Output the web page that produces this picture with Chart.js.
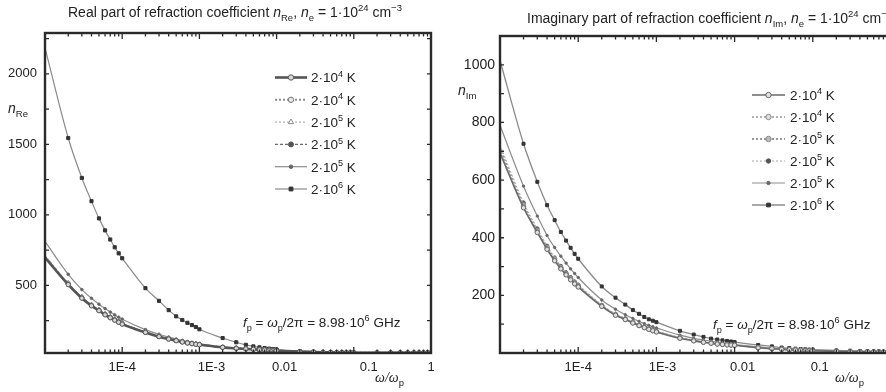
<!DOCTYPE html>
<html>
<head>
<meta charset="utf-8">
<script src="https://cdn.jsdelivr.net/npm/chart.js@4.4.1/dist/chart.umd.min.js"></script>
<style>
  html, body { margin: 0; padding: 0; background: #fff; overflow: hidden; }
  #wrap { position: relative; width: 886px; height: 392px; overflow: hidden; }
  .panel { position: absolute; top: 0; }
</style>
</head>
<body>
<div id="wrap">
  <canvas id="reChart" class="panel" width="443" height="392" style="left:0"></canvas>
  <canvas id="imChart" class="panel" width="460" height="392" style="left:443px"></canvas>
</div>
<script>
// omega/omega_p sample points, shared by every curve
const omega = [
  1e-5, 2e-5, 3e-5, 4e-5, 5e-5, 6e-5, 7e-5, 8e-5, 9e-5,
  1e-4, 2e-4, 3e-4, 4e-4, 5e-4, 6e-4, 7e-4, 8e-4, 9e-4,
  1e-3, 2e-3, 3e-3, 4e-3, 5e-3, 6e-3, 7e-3, 8e-3, 9e-3,
  0.01, 0.02, 0.03, 0.04, 0.05, 0.06, 0.07, 0.08, 0.09,
  0.1, 0.2, 0.3, 0.4, 0.5, 0.6, 0.7, 0.8, 0.9,
  1
];

// temperature exponents for the legend: 2·10^n K
const seriesExp = [4, 4, 5, 5, 5, 6];

// real part n_Re (left panel)
const reS1 = [697, 505, 409, 355, 320, 291, 270, 253, 238, 225, 166, 136, 119, 107, 98, 91, 86, 82, 79, 60, 53, 49, 46, 43, 41, 39, 38, 37, 30, 27, 25, 24, 23, 23, 22, 22, 22, 21, 21, 21, 21, 21, 21, 21, 21, 21];
const reS2 = [702, 509, 412, 358, 322, 293, 272, 255, 240, 227, 167, 137, 120, 108, 99, 92, 87, 83, 80, 61, 54, 49, 46, 43, 41, 39, 38, 37, 30, 27, 25, 24, 23, 23, 22, 22, 22, 21, 21, 21, 21, 21, 21, 21, 21, 21];
const reS3 = [715, 518, 420, 364, 328, 299, 277, 259, 244, 231, 170, 139, 122, 110, 101, 94, 88, 84, 81, 62, 54, 50, 47, 44, 42, 40, 39, 38, 30, 27, 25, 24, 23, 23, 22, 22, 22, 21, 21, 21, 21, 21, 21, 21, 21, 21];
const reS4 = [705, 512, 414, 360, 324, 295, 274, 257, 242, 229, 168, 138, 121, 109, 100, 93, 87, 83, 80, 61, 54, 49, 46, 43, 41, 39, 38, 37, 30, 27, 25, 24, 23, 23, 22, 22, 22, 21, 21, 21, 21, 21, 21, 21, 21, 21];
const reS5 = [812, 578, 470, 408, 366, 335, 310, 290, 274, 260, 186, 153, 133, 119, 109, 101, 95, 89, 85, 62, 54, 50, 47, 44, 42, 40, 39, 38, 30, 27, 25, 24, 23, 23, 22, 22, 22, 21, 21, 21, 21, 21, 21, 21, 21, 21];
const reS6 = [2185, 1545, 1262, 1097, 975, 890, 825, 770, 727, 692, 480, 390, 324, 280, 254, 234, 218, 204, 188, 126, 96, 78, 67, 60, 55, 51, 48, 45, 32, 27, 25, 24, 23, 23, 22, 22, 22, 21, 21, 21, 21, 21, 21, 21, 21, 21];

// imaginary part n_Im (right panel)
const imS1 = [694, 504, 418, 360, 320, 292, 271, 254, 240, 229, 162, 131, 116, 104, 95, 88, 82, 77, 73, 51, 42, 37, 34, 31, 29.5, 28, 27.5, 27, 18, 15, 13, 11.5, 10.5, 9.5, 9, 8.5, 8, 6, 5, 4.5, 4, 3.5, 3.5, 3, 3, 3];
const imS2 = [700, 508, 421, 362, 322, 294, 273, 256, 242, 231, 163, 132, 117, 105, 96, 89, 83, 78, 74, 52, 43, 38, 34, 32, 30, 29, 28, 27, 18, 15, 13, 11.5, 10.5, 9.5, 9, 8.5, 8, 6, 5, 4.5, 4, 3.5, 3.5, 3, 3, 3];
const imS3 = [710, 514, 426, 367, 327, 298, 276, 259, 245, 234, 165, 134, 118, 106, 97, 90, 84, 79, 75, 53, 44, 38, 35, 32, 30, 29, 28, 27.5, 18.5, 15, 13, 11.5, 10.5, 9.5, 9, 8.5, 8, 6, 5, 4.5, 4, 3.5, 3.5, 3, 3, 3];
const imS4 = [722, 522, 432, 372, 331, 302, 280, 263, 248, 237, 167, 136, 120, 108, 98, 91, 85, 80, 76, 54, 44, 39, 35, 33, 31, 29, 28, 28, 19, 15.5, 13, 12, 11, 10, 9, 8.5, 8, 6, 5, 4.5, 4, 3.5, 3.5, 3, 3, 3];
const imS5 = [790, 579, 475, 408, 366, 336, 312, 292, 276, 262, 184, 152, 133, 120, 110, 102, 96, 91, 87, 62, 51, 45, 41, 38, 35, 33, 31, 29, 21, 17, 15, 13, 12, 11, 10.5, 10, 9.5, 7, 6, 5, 4.5, 4, 4, 3.5, 3.5, 3];
const imS6 = [1015, 726, 594, 513, 461, 420, 390, 365, 344, 327, 231, 192, 168, 149, 136, 125, 117, 112, 107, 77, 64, 56, 50, 47, 44, 42, 40, 38, 28, 23, 19, 17, 15, 14, 13, 12, 11.5, 9, 8, 7, 6.5, 6, 5.5, 5, 5, 4.5];

// tick labels
const xTickValues = [1e-4, 1e-3, 1e-2, 1e-1, 1];
const xTickLabels = ['1E-4', '1E-3', '0.01', '0.1', '1'];
const reTickValues = [500, 1000, 1500, 2000];
const imTickValues = [200, 400, 600, 800, 1000];

const SANS = "'Liberation Sans', Arial, sans-serif";
const SERIF = "'Liberation Serif', 'Times New Roman', serif";
Chart.defaults.font.family = SANS;
Chart.defaults.color = '#222';

// text with italics / sub / superscripts, drawn on the canvas
function drawRich(ctx, item) {
    const size = item.size;
    let total = 0;
    const segs = item.parts.map(p => {
        const style = p[1] || '';
        const small = style.includes('sub') || style.includes('sup');
        const fs = small ? size * 0.68 : size;
        const fam = style.includes('serif') ? SERIF : SANS;
        const italic = style === 'i' || style.includes('it');
        const font = (italic ? 'italic ' : '') + fs + 'px ' + fam;
        ctx.font = font;
        const w = ctx.measureText(p[0]).width;
        total += w;
        let dy = 0;
        if (style.includes('sup')) dy = -size * 0.42;
        if (style.includes('sub')) dy = size * 0.3;
        return { t: p[0], font, w, dy };
    });
    let x = item.align === 'center' ? item.x - total / 2 : item.x;
    ctx.save();
    ctx.fillStyle = '#222';
    ctx.textAlign = 'left';
    ctx.textBaseline = 'alphabetic';
    segs.forEach(s => {
        ctx.font = s.font;
        ctx.fillText(s.t, x, item.y + s.dy);
        x += s.w;
    });
    ctx.restore();
}

const richTextPlugin = {
    id: 'richText',
    afterDraw(chart, args, opts) {
        (opts.items || []).forEach(it => drawRich(chart.ctx, it));
    }
};

// box frame with inward ticks on all four sides, plus the x tick labels
const framePlugin = {
    id: 'frame',
    afterDatasetsDraw(chart, args, opts) {
        const { ctx, chartArea: a } = chart;
        const x = chart.scales.x, y = chart.scales.y;
        ctx.save();
        ctx.strokeStyle = '#2a2a2a';
        ctx.lineWidth = 1.3;
        ctx.beginPath();
        for (let k = -5; k <= 0; k++) {
            for (let m = 1; m <= 9; m++) {
                const v = m * Math.pow(10, k);
                if (v > x.max * 1.001) continue;
                const px = x.getPixelForValue(v);
                const len = m === 1 ? 6 : 3.5;
                ctx.moveTo(px, a.bottom); ctx.lineTo(px, a.bottom - len);
                ctx.moveTo(px, a.top); ctx.lineTo(px, a.top + len);
            }
        }
        for (let v = opts.yStep; v < y.max; v += opts.yStep) {
            const py = y.getPixelForValue(v);
            ctx.moveTo(a.left, py); ctx.lineTo(a.left + 4, py);
            ctx.moveTo(a.right, py); ctx.lineTo(a.right - 4, py);
        }
        ctx.stroke();
        ctx.lineWidth = 2.4;
        ctx.strokeRect(a.left, a.top, a.right - a.left, a.bottom - a.top);

        // decade labels under the axis (the printed figure sets them a little right of the tick)
        ctx.fillStyle = '#222';
        ctx.font = '13px ' + SANS;
        ctx.textAlign = 'center';
        ctx.textBaseline = 'alphabetic';
        xTickValues.forEach((v, i) => {
            ctx.fillText(xTickLabels[i], x.getPixelForValue(v) + opts.labelShift[i], a.bottom + 18);
        });
        ctx.restore();
    }
};

// legend: line sample with marker, then "2·10^n K"
const lineLegendPlugin = {
    id: 'lineLegend',
    afterDraw(chart, args, o) {
        const ctx = chart.ctx;
        chart.data.datasets.forEach((ds, i) => {
            const y = o.y0 + i * o.dy;
            ctx.save();
            ctx.strokeStyle = ds.borderColor;
            ctx.lineWidth = ds.borderWidth;
            ctx.setLineDash(ds.borderDash || []);
            ctx.beginPath();
            ctx.moveTo(o.x0, y);
            ctx.lineTo(o.x1, y);
            ctx.stroke();
            ctx.setLineDash([]);
            ctx.fillStyle = ds.pointBackgroundColor;
            ctx.strokeStyle = ds.pointBorderColor;
            ctx.lineWidth = 1;
            Chart.helpers.drawPoint(ctx, { pointStyle: ds.pointStyle, radius: ds.markerRadius + 0.5, borderWidth: 1, rotation: 0 }, (o.x0 + o.x1) / 2, y);
            ctx.restore();
            drawRich(ctx, { x: o.textX, y: y + o.size * 0.36, size: o.size, parts: [['2·10'], [String(seriesExp[i]), 'sup'], [' K']] });
        });
    }
};

function makeDataset(values, st) {
    return {
        label: '2·10^' + st.exp + ' K',
        data: omega.map((w, i) => ({ x: w, y: values[i] })),
        borderColor: st.color,
        borderWidth: st.width,
        borderDash: st.dash,
        pointStyle: st.marker,
        markerRadius: st.r,
        pointRadius: c => (c.dataIndex === 0 ? 0 : st.r),
        pointBackgroundColor: st.fill,
        pointBorderColor: st.edge,
        pointBorderWidth: 1,
        cubicInterpolationMode: 'monotone'
    };
}

const reStyles = [
    { exp: 4, color: '#555', width: 2.6, dash: [], marker: 'circle', r: 2.2, fill: '#d8d8d8', edge: '#555' },
    { exp: 4, color: '#8e8e8e', width: 2, dash: [2, 2], marker: 'circle', r: 2.2, fill: '#e8e8e8', edge: '#777' },
    { exp: 5, color: '#a0a0a0', width: 1, dash: [2, 2], marker: 'triangle', r: 2.6, fill: '#fff', edge: '#888' },
    { exp: 5, color: '#6c6c6c', width: 1.3, dash: [3, 2], marker: 'circle', r: 2, fill: '#555', edge: '#555' },
    { exp: 5, color: '#8c8c8c', width: 1.2, dash: [], marker: 'circle', r: 1.3, fill: '#666', edge: '#666' },
    { exp: 6, color: '#8a8a8a', width: 1.2, dash: [], marker: 'rect', r: 2.2, fill: '#333', edge: '#333' }
];

const imStyles = [
    { exp: 4, color: '#6a6a6a', width: 1.6, dash: [], marker: 'circle', r: 2.2, fill: '#e0e0e0', edge: '#666' },
    { exp: 4, color: '#9a9a9a', width: 1.4, dash: [2, 2], marker: 'circle', r: 2.2, fill: '#ddd', edge: '#888' },
    { exp: 5, color: '#9a9a9a', width: 1.8, dash: [2, 2], marker: 'circle', r: 2.2, fill: '#bbb', edge: '#888' },
    { exp: 5, color: '#a8a8a8', width: 1, dash: [2, 2], marker: 'circle', r: 1.7, fill: '#555', edge: '#555' },
    { exp: 5, color: '#8c8c8c', width: 1.2, dash: [], marker: 'circle', r: 1.2, fill: '#666', edge: '#666' },
    { exp: 6, color: '#8a8a8a', width: 1.3, dash: [], marker: 'rect', r: 2.1, fill: '#333', edge: '#333' }
];

function axes(yMin, yMax, yTicks, yWidth, yPad, ySize) {
    return {
        x: {
            type: 'logarithmic', min: 1e-5, max: 1,
            grid: { display: false, drawTicks: false },
            border: { display: false },
            afterBuildTicks: s => { s.ticks = xTickValues.map(v => ({ value: v })); },
            afterFit: s => { s.height = 39; },
            ticks: { display: false }
        },
        y: {
            min: yMin, max: yMax,
            grid: { display: false, drawTicks: false },
            border: { display: false },
            afterBuildTicks: s => { s.ticks = yTicks.map(v => ({ value: v })); },
            afterFit: s => { s.width = yWidth; },
            ticks: { padding: yPad, color: '#222', font: { size: ySize }, callback: v => String(v) }
        }
    };
}

const fpParts = [['f', 'i'], ['p', 'sub'], [' = '], ['ω', 'i'], ['p', 'sub'], ['/2π = 8.98·10'], ['6', 'sup'], [' GHz']];

new Chart(document.getElementById('reChart'), {
    type: 'line',
    data: { datasets: [reS1, reS2, reS3, reS4, reS5, reS6].map((v, i) => makeDataset(v, reStyles[i])) },
    options: {
        responsive: false, animation: false, devicePixelRatio: 1, events: [],
        layout: { padding: { top: 33, right: 12, left: 0, bottom: 0 } },
        scales: axes(20, 2290, reTickValues, 45, 8, 13),
        plugins: {
            legend: { display: false }, tooltip: { enabled: false },
            frame: { yStep: 250, labelShift: [0, 12, 8, 15, 0] },
            lineLegend: { x0: 275, x1: 307, textX: 311, y0: 77.5, dy: 22.3, size: 13.5 },
            richText: {
                items: [
                    { x: 68, y: 17, size: 14, parts: [['Real part of refraction coefficient '], ['n', 'i'], ['Re', 'sub'], [', '], ['n', 'i'], ['e', 'sub'], [' = 1·10'], ['24', 'sup'], [' cm'], ['−3', 'sup']] },
                    { x: 8, y: 113, size: 14, parts: [['n', 'i'], ['Re', 'sub']] },
                    { x: 375, y: 382, size: 14, parts: [['ω/ω', 'it serif'], ['p', 'sub']] },
                    { x: 243, y: 327, size: 13.5, parts: fpParts }
                ]
            }
        }
    },
    plugins: [framePlugin, lineLegendPlugin, richTextPlugin]
});

new Chart(document.getElementById('imChart'), {
    type: 'line',
    data: { datasets: [imS1, imS2, imS3, imS4, imS5, imS6].map((v, i) => makeDataset(v, imStyles[i])) },
    options: {
        responsive: false, animation: false, devicePixelRatio: 1, events: [],
        layout: { padding: { top: 36, right: 12, left: 0, bottom: 0 } },
        scales: axes(0, 1100, imTickValues, 57, 5, 14),
        plugins: {
            legend: { display: false }, tooltip: { enabled: false },
            frame: { yStep: 100, labelShift: [0, 6, 8, 7, 0] },
            lineLegend: { x0: 309, x1: 342, textX: 347, y0: 95, dy: 22, size: 13.5 },
            richText: {
                items: [
                    { x: 84, y: 23, size: 14, parts: [['Imaginary part of refraction coefficient '], ['n', 'i'], ['Im', 'sub'], [', '], ['n', 'i'], ['e', 'sub'], [' = 1·10'], ['24', 'sup'], [' cm'], ['−3', 'sup']] },
                    { x: 15, y: 95, size: 14, parts: [['n', 'i'], ['Im', 'sub']] },
                    { x: 392, y: 382, size: 14, parts: [['ω/ω', 'it serif'], ['p', 'sub']] },
                    { x: 270, y: 329, size: 13.5, parts: fpParts }
                ]
            }
        }
    },
    plugins: [framePlugin, lineLegendPlugin, richTextPlugin]
});
</script>
</body>
</html>
